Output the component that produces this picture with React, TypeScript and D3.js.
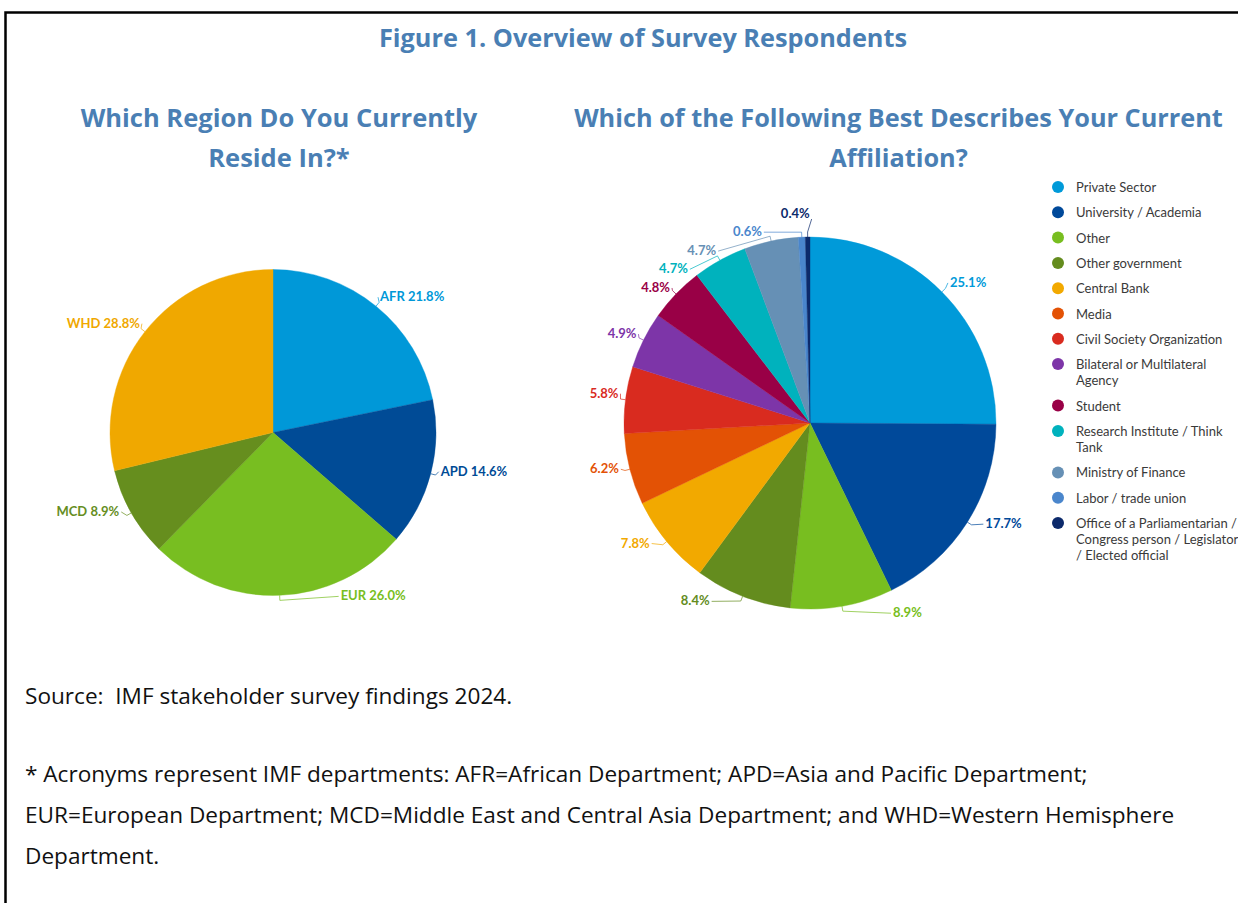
import React from 'react';
import * as d3 from 'd3';

// ---------- DATA ----------
const regionLabels = ['AFR', 'APD', 'EUR', 'MCD', 'WHD'];
const regionValues = [21.8, 14.6, 26.0, 8.9, 28.8];
const regionColors = ['#0098d8', '#004b96', '#78be21', '#668e1e', '#f0a800'];

const affiliationLabels = [
  'Private Sector',
  'University / Academia',
  'Other',
  'Other government',
  'Central Bank',
  'Media',
  'Civil Society Organization',
  'Bilateral or Multilateral Agency',
  'Student',
  'Research Institute / Think Tank',
  'Ministry of Finance',
  'Labor / trade union',
  'Office of a Parliamentarian / Congress person / Legislator / Elected official',
];
const affiliationValues = [25.1, 17.7, 8.9, 8.4, 7.8, 6.2, 5.8, 4.9, 4.8, 4.7, 4.7, 0.6, 0.4];
const affiliationColors = [
  '#009ad9', '#00499a', '#78be20', '#648c1e', '#f2a900', '#e35205', '#d92b1f',
  '#7d35a8', '#990046', '#00b2bd', '#6690b5', '#4a86cc', '#0c2a6b',
];
const legendLines = [
  ['Private Sector'],
  ['University / Academia'],
  ['Other'],
  ['Other government'],
  ['Central Bank'],
  ['Media'],
  ['Civil Society Organization'],
  ['Bilateral or Multilateral', 'Agency'],
  ['Student'],
  ['Research Institute / Think', 'Tank'],
  ['Ministry of Finance'],
  ['Labor / trade union'],
  ['Office of a Parliamentarian /', 'Congress person / Legislator', '/ Elected official'],
];

const titleText = 'Figure 1. Overview of Survey Respondents';
const leftTitle = ['Which Region Do You Currently', 'Reside In?*'];
const rightTitle = ['Which of the Following Best Describes Your Current', 'Affiliation?'];
const sourceLine = 'Source:  IMF stakeholder survey findings 2024.';
const noteLines = [
  '* Acronyms represent IMF departments: AFR=African Department; APD=Asia and Pacific Department;',
  'EUR=European Department; MCD=Middle East and Central Asia Department; and WHD=Western Hemisphere',
  'Department.',
];

// ---------- LAYOUT (label nudges relative to arc point at mid-angle) ----------
const leftNudge: [number, number][] = [[4, -10], [10, -3], [61, 0], [-12, -2], [-5, -9]];
const rightNudge: [number, number][] = [
  [8, -10], [18, 1], [51, 6], [-33, 4], [-17, 1], [-11, -1], [-7, -7],
  [-7, -7], [-6, -7], [-32, 8], [-55, 9], [-40, -6], [2, -24],
];

const TITLE_COLOR = '#4a7fb4';
const TITLE_FONT = '"Open Sans", sans-serif';
const LABEL_FONT = 'Lato, "Open Sans", sans-serif';

type PieProps = {
  cx: number; cy: number; r: number;
  values: number[]; colors: string[]; texts: string[];
  nudges: [number, number][];
};

function Pie({ cx, cy, r, values, colors, texts, nudges }: PieProps) {
  const pie = d3.pie<number>().sort(null).value((d) => d);
  const arcs = pie(values);
  const arc = d3.arc<d3.PieArcDatum<number>>().innerRadius(0).outerRadius(r);
  return (
    <g transform={`translate(${cx},${cy})`}>
      {arcs.map((a, i) => (
        <path key={i} d={arc(a) || ''} fill={colors[i]} stroke={colors[i]} strokeWidth={0.4} />
      ))}
      {arcs.map((a, i) => {
        const mid = (a.startAngle + a.endAngle) / 2;
        const sx = Math.sin(mid), sy = -Math.cos(mid);
        const ax = r * sx, ay = r * sy;
        const bx = (r + 5) * sx, by = (r + 5) * sy;
        const [dx, dy] = nudges[i];
        const tx = ax + dx, ty = ay + dy;
        const rightSide = sx >= 0;
        const anchor = rightSide ? 'start' : 'end';
        const gap = rightSide ? -2 : 2;
        const line = `M${ax},${ay} L${bx},${by} L${tx + gap},${ty + (dy < -15 ? 6 : 1)}`;
        return (
          <g key={'l' + i}>
            <path d={line} fill="none" stroke={colors[i]} strokeWidth={1} opacity={0.7} />
            <text
              x={tx}
              y={ty}
              dominantBaseline="central"
              textAnchor={anchor}
              fill={colors[i]}
              fontFamily={LABEL_FONT}
              fontWeight={700}
              fontSize={13}
            >
              {texts[i]}
            </text>
          </g>
        );
      })}
    </g>
  );
}

export default function App() {
  const W = 1238, H = 903;
  const regionTexts = regionLabels.map((l, i) => `${l} ${regionValues[i].toFixed(1)}%`);
  const affTexts = affiliationValues.map((v) => `${v.toFixed(1)}%`);

  const legendX = 1058, legendY0 = 187, itemGap = 25.3, lineGap = 16.2;
  let yCursor = legendY0;
  const legendItems = legendLines.map((lines, i) => {
    const y = yCursor;
    yCursor += itemGap + (lines.length - 1) * lineGap;
    return { lines, y, color: affiliationColors[i] };
  });

  return (
    <svg
      width={W}
      height={H}
      style={{ position: 'absolute', left: 0, top: 0, background: '#fff' }}
    >
      <rect x={0} y={0} width={W} height={H} fill="#fff" />
      <path d={`M5.5,${H + 5} L5.5,12.5 L${W + 5},12.5`} fill="none" stroke="#000" strokeWidth={2.5} />

      <text x={643} y={37} textAnchor="middle" dominantBaseline="central"
        fontFamily={TITLE_FONT} fontWeight={700} fontSize={25.3} fill={TITLE_COLOR}>
        {titleText}
      </text>

      {leftTitle.map((t, i) => (
        <text key={'lt' + i} x={279} y={117 + i * 40} textAnchor="middle" dominantBaseline="central"
          fontFamily={TITLE_FONT} fontWeight={700} fontSize={25.5} fill={TITLE_COLOR}>
          {t}
        </text>
      ))}
      {rightTitle.map((t, i) => (
        <text key={'rt' + i} x={898.5} y={117 + i * 40} textAnchor="middle" dominantBaseline="central"
          fontFamily={TITLE_FONT} fontWeight={700} fontSize={25.3} fill={TITLE_COLOR}>
          {t}
        </text>
      ))}

      <Pie cx={273} cy={432.5} r={163} values={regionValues} colors={regionColors}
        texts={regionTexts} nudges={leftNudge} />
      <Pie cx={810} cy={423} r={186} values={affiliationValues} colors={affiliationColors}
        texts={affTexts} nudges={rightNudge} />

      {legendItems.map((it, i) => (
        <g key={'lg' + i}>
          <circle cx={legendX} cy={it.y} r={6} fill={it.color} />
          {it.lines.map((ln, j) => (
            <text key={j} x={1076} y={it.y + j * lineGap} dominantBaseline="central"
              fontFamily={LABEL_FONT} fontSize={13} fill="#3a3a3a">
              {ln}
            </text>
          ))}
        </g>
      ))}

      <text x={25} y={695} dominantBaseline="central" xmlSpace="preserve" style={{ whiteSpace: 'pre' }}
        fontFamily={TITLE_FONT} fontSize={22.6} fill="#111">
        {sourceLine}
      </text>
      {noteLines.map((t, i) => (
        <text key={'f' + i} x={25} y={773 + i * 41} dominantBaseline="central"
          fontFamily={TITLE_FONT} fontSize={22.6} fill="#111">
          {t}
        </text>
      ))}
    </svg>
  );
}
